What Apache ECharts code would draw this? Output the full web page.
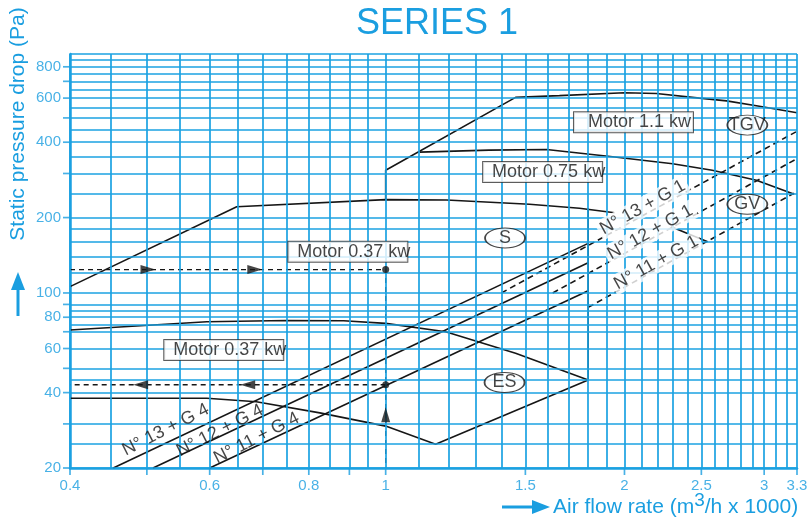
<!DOCTYPE html>
<html><head><meta charset="utf-8">
<script src="https://cdn.jsdelivr.net/npm/echarts@6/dist/echarts.min.js"></script>
<style>html,body{margin:0;padding:0;background:#fff}#c{width:808px;height:520px}</style>
</head><body><div id="c"></div>
<script>
// ---------- axis ticks / grid ----------
const xTickLabels = [0.4, 0.6, 0.8, 1, 1.5, 2, 2.5, 3, 3.3];
const yTickLabels = [20, 40, 60, 80, 100, 200, 400, 600, 800];
const xTickMarks = [0.4, 0.5, 0.6, 0.7, 0.8, 0.9, 1, 1.5, 2, 2.5, 3, 3.3];
const yTickMarks = [20, 30, 40, 50, 60, 70, 80, 90, 100, 200, 300, 400, 500, 600, 700, 800];
const xGrid = [0.4,0.45,0.5,0.55,0.6,0.65,0.7,0.75,0.8,0.85,0.9,0.95,1,1.1,1.2,1.3,1.4,1.5,1.6,1.7,1.8,1.9,2,2.1,2.2,2.3,2.4,2.5,2.6,2.7,2.8,2.9,3,3.1,3.2,3.3];
const yGrid = [20,25,30,40,45,50,60,70,75,80,85,90,100,120,140,160,180,200,250,300,350,400,450,500,550,600,650,700,750,800,850,900];

// ---------- fan curves [airflow (m3/h x1000), pressure (Pa)] ----------
const motor11kw = [[1.0,236],[1.0,309],[1.458,604],[1.656,614],[2.0,630],[2.194,626],[2.486,600],[2.69,585],[2.958,557],[3.3,524]];
const motor075kw = [[1.104,365],[1.35,372],[1.595,374],[1.932,350],[2.3,328],[2.58,309],[2.933,282],[3.274,248]];
const motor037S = [[0.4,106],[0.649,221],[1.0,236],[1.193,235],[1.518,226],[1.755,218],[1.943,209]];
const motor037ESupper = [[0.4,71.1],[0.595,76.7],[0.75,77.6],[0.885,77.4],[1.0,75.6],[1.19,70],[1.458,57.4],[1.8,44.9]];
const motor037ESlower = [[0.4,38],[0.595,38],[0.687,36.8],[0.826,33.2],[1.0,29.4],[1.156,24.9],[1.8,44.9],[1.8,218]];

// ---------- system lines ----------
const n13g4 = [[0.4535,20],[1.8,157.8]];
const n12g4 = [[0.509,20],[1.8,132]];
const n11g4 = [[0.6,20],[1.8,102]];
const n13g1 = [[1.399,100],[3.29,440]];
const n12g1 = [[1.624,100],[3.29,342]];
const n11g1 = [[1.8,87.6],[3.27,250]];
const pointerG1 = [[2.29,183.8],[2.546,160]];

// ---------- reading example ----------
const refUpper = [[0.4,124],[1.0,124],[1.0,20]];
const refLower = [[1.0,43],[0.4,43]];
const refDots = [[1.0,124],[1.0,43]];
const refArrowsRight = [[0.5016,124],[0.684,124]];
const refArrowsLeft = [[0.491,43],[0.67,43]];
const refArrowsUp = [[1.0,32.6]];

// ---------- annotations ----------
const boxLabels = [
  {text:'Motor 1.1 kw', at:[2.053,481]},
  {text:'Motor 0.75 kw', at:[1.577,304]},
  {text:'Motor 0.37 kw', at:[0.896,146]},
  {text:'Motor 0.37 kw', at:[0.625,59.2]}
];
const ovalLabels = [
  {text:'TGV', at:[2.857,468]},
  {text:'GV', at:[2.857,226]},
  {text:'S', at:[1.414,165.7]},
  {text:'ES', at:[1.412,43.9]}
];
const g4Labels = [
  {text:'N° 13 + G 4', at:[0.528,28.4]},
  {text:'N° 12 + G 4', at:[0.618,28.2]},
  {text:'N° 11 + G 4', at:[0.6875,26.3]}
];
const g1Labels = [
  {text:'N° 13 + G 1', at:[2.109,219.6]},
  {text:'N° 12 + G 1', at:[2.155,174.6]},
  {text:'N° 11 + G 1', at:[2.193,132]}
];

const BLUE = '#1a9ee0';
const GRIDC = '#1ba2e2';
const INK = '#161616';
const FONT = '"Liberation Sans", Arial, sans-serif';

function curve(data, dashed){
  return {type:'line', data:data, showSymbol:false, symbol:'none', silent:true, z:4, clip:false,
    lineStyle:{color:INK, width:1.6, type: dashed ? [6,4] : 'solid'}};
}
function toItems(list){ return list.map(o => ({value:o.at, name:o.text})); }

const chart = echarts.init(document.getElementById('c'), null, {renderer:'canvas'});
const axisCommon = {
  type:'log', logBase:10,
  axisLine:{show:true, onZero:false, lineStyle:{color:BLUE, width:2.5}},
  axisTick:{show:false}, axisLabel:{show:false}, splitLine:{show:false}
};
const option = {
  animation:false,
  grid:{left:70, right:11, top:54, bottom:52},
  xAxis:Object.assign({min:0.4, max:3.3}, axisCommon),
  yAxis:Object.assign({min:20, max:900}, axisCommon),
  graphic:[
    {type:'text', x:437, y:24, style:{text:'SERIES 1', fill:BLUE, fontSize:36, fontFamily:FONT, align:'center', verticalAlign:'middle'}},
    {type:'text', x:18, y:124, rotation:Math.PI/2, style:{text:'Static pressure drop (Pa)', fill:BLUE, fontSize:21, fontFamily:FONT, align:'center', verticalAlign:'middle'}},
    {type:'line', shape:{x1:18, y1:316, x2:18, y2:286}, style:{stroke:BLUE, lineWidth:3}},
    {type:'polygon', shape:{points:[[11,290],[18,272],[25,290]]}, style:{fill:BLUE}},
    {type:'line', shape:{x1:502, y1:507, x2:535, y2:507}, style:{stroke:BLUE, lineWidth:3}},
    {type:'polygon', shape:{points:[[532,500],[550,507],[532,514]]}, style:{fill:BLUE}},
    {type:'text', x:553, y:507, style:{text:'{a|Air flow rate (m}{s|3}{a|/h x 1000)}', fill:BLUE, fontFamily:FONT, verticalAlign:'middle',
      rich:{a:{fontSize:21, lineHeight:32, fill:BLUE, fontFamily:FONT, verticalAlign:'middle'}, s:{fontSize:19, fill:BLUE, fontFamily:FONT, verticalAlign:'top'}}}}
  ],
  series:[
    {type:'line', data:[[0.4,20]], showSymbol:false, silent:true, z:1,
      markLine:{silent:true, symbol:['none','none'], animation:false, label:{show:false},
        lineStyle:{color:GRIDC, width:1.7, type:'solid'},
        data: xGrid.map(v=>({xAxis:v})).concat(yGrid.map(v=>({yAxis:v})))}},
    {type:'scatter', data:xTickMarks.map(v=>[v,20]), symbol:'rect', symbolSize:[1.7,7], symbolOffset:[0,3.5], itemStyle:{color:BLUE}, silent:true, clip:false, z:2},
    {type:'scatter', data:yTickMarks.map(v=>[0.4,v]), symbol:'rect', symbolSize:[7,1.7], symbolOffset:[-3.5,0], itemStyle:{color:BLUE}, silent:true, clip:false, z:2},
    {type:'scatter', data:xTickLabels.map(v=>[v,20]), symbolSize:0, silent:true, clip:false, z:2,
      label:{show:true, position:'bottom', distance:10, color:BLUE, fontSize:15, fontFamily:FONT, formatter:p=>String(p.value[0])}},
    {type:'scatter', data:yTickLabels.map(v=>[0.4,v]), symbolSize:0, silent:true, clip:false, z:2,
      label:{show:true, position:'left', distance:9, color:BLUE, fontSize:15, fontFamily:FONT, formatter:p=>String(p.value[1])}},

    curve(motor11kw), curve(motor075kw), curve(motor037S), curve(motor037ESupper), curve(motor037ESlower),
    curve(n13g4), curve(n12g4), curve(n11g4),
    curve(n13g1, true), curve(n12g1, true), curve(n11g1, true), curve(pointerG1),
    Object.assign(curve(refUpper, true), {lineStyle:{color:INK, width:1.3, type:[5,4]}}),
    Object.assign(curve(refLower, true), {lineStyle:{color:INK, width:1.3, type:[5,4]}}),
    {type:'scatter', data:refDots, symbol:'circle', symbolSize:7, itemStyle:{color:INK}, silent:true, z:6},
    {type:'scatter', data:refArrowsRight, symbol:'triangle', symbolSize:[9,15], symbolRotate:-90, itemStyle:{color:INK}, silent:true, z:6},
    {type:'scatter', data:refArrowsLeft, symbol:'triangle', symbolSize:[9,15], symbolRotate:90, itemStyle:{color:INK}, silent:true, z:6},
    {type:'scatter', data:refArrowsUp, symbol:'triangle', symbolSize:[9,15], symbolRotate:0, itemStyle:{color:INK}, silent:true, z:6},

    {type:'scatter', data:toItems(g4Labels), symbolSize:0, silent:true, z:8,
      label:{show:true, position:'inside', formatter:'{b}', rotate:27, color:INK, fontSize:18, fontFamily:FONT}},
    {type:'scatter', data:toItems(g1Labels), symbolSize:0, silent:true, z:8,
      label:{show:true, position:'inside', formatter:'{b}', rotate:29, color:INK, fontSize:18, fontFamily:FONT, backgroundColor:'#fff', padding:[1,3]}},
    {type:'scatter', data:toItems(boxLabels), symbolSize:0, silent:true, z:9,
      label:{show:true, position:'inside', formatter:'{b}', color:INK, fontSize:18, fontFamily:FONT, backgroundColor:'#fff', borderColor:'#333', borderWidth:1,
        padding:[2,0,0,12], width:107, overflow:'none', lineHeight:18}},
    {type:'scatter', data:toItems(ovalLabels), symbol:'circle', symbolSize:[40,20], silent:true, z:9,
      itemStyle:{color:'#fff', borderColor:INK, borderWidth:1.3},
      label:{show:true, position:'inside', formatter:'{b}', color:INK, fontSize:18, fontFamily:FONT}}
  ]
};
chart.setOption(option);
</script>
</body></html>
